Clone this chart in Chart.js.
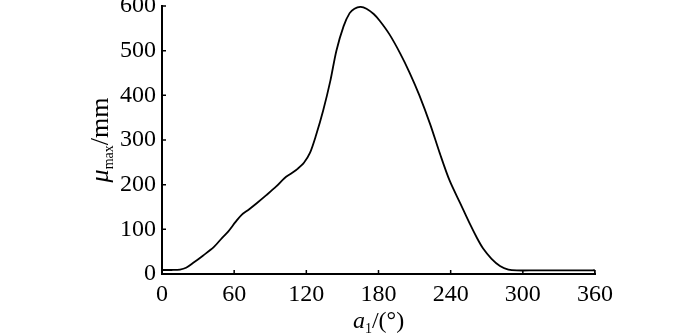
<!DOCTYPE html>
<html>
<head>
<meta charset="utf-8">
<script src="https://cdn.jsdelivr.net/npm/chart.js@4/dist/chart.umd.min.js"></script>
<style>
  html, body { margin: 0; padding: 0; background: #fff; }
  #wrap { width: 700px; height: 336px; }
</style>
</head>
<body>
<div id="wrap"><canvas id="muChart" width="700" height="336"></canvas></div>
<script>
// angle a1 (deg) and mu_max (mm)
const angles = [0, 8, 15, 20, 26, 34, 43, 50, 55, 61, 66, 72, 79, 87, 95, 102, 108, 113, 118, 123, 128, 134, 140, 145, 151, 156, 160, 165, 170, 176, 181, 189, 198, 206, 214, 223, 231, 239, 248, 256, 262, 267, 274, 281, 288, 295, 310, 330, 350, 357, 360, 360];
const muMax = [9, 9, 10, 14, 25, 41, 60, 81, 95, 116, 132, 144, 159, 177, 196, 215, 226, 236, 249, 271, 310, 366, 433, 500, 555, 584, 594, 598, 594, 582, 567, 537, 494, 450, 400, 335, 270, 210, 158, 112, 80, 57, 34, 18, 10, 8, 8, 8, 8, 8, 8, 0];
const xTicks = [0, 60, 120, 180, 240, 300, 360];
const yTicks = [0, 100, 200, 300, 400, 500, 600];

const serif = "'Liberation Serif', 'Times New Roman', serif";

const points = angles.map((a, i) => ({ x: a, y: muMax[i] }));

// inward tick marks + axis titles with subscripts
const decor = {
    id: 'decor',
    afterDraw(chart) {
        const ctx = chart.ctx;
        const area = chart.chartArea;
        const xs = chart.scales.x, ys = chart.scales.y;
        ctx.save();
        ctx.strokeStyle = '#000';
        ctx.lineWidth = 1.5;
        ctx.beginPath();
        xTicks.forEach(v => {
            const px = xs.getPixelForValue(v);
            ctx.moveTo(px, area.bottom);
            ctx.lineTo(px, area.bottom - 4);
        });
        yTicks.forEach(v => {
            const py = ys.getPixelForValue(v);
            ctx.moveTo(area.left, py);
            ctx.lineTo(area.left + 4, py);
        });
        ctx.stroke();

        ctx.fillStyle = '#000';
        ctx.textBaseline = 'alphabetic';
        ctx.textAlign = 'left';

        // x title: a1/(°)
        const big = '24px ' + serif, bigIt = 'italic 24px ' + serif, small = '14px ' + serif;
        const xParts = [['a', bigIt, 0], ['1', small, 5], ['/(°)', big, 0]];
        let w = 0;
        xParts.forEach(p => { ctx.font = p[1]; w += ctx.measureText(p[0]).width; });
        let cx = (area.left + area.right) / 2 - w / 2;
        const by = 328;
        xParts.forEach(p => {
            ctx.font = p[1];
            ctx.fillText(p[0], cx, by + p[2]);
            cx += ctx.measureText(p[0]).width;
        });

        // y title: mu_max/mm
        const yParts = [['μ', 'italic 26px ' + serif, 0], ['max', small, 5], ['/mm', '26px ' + serif, 0]];
        w = 0;
        yParts.forEach(p => { ctx.font = p[1]; w += ctx.measureText(p[0]).width; });
        ctx.translate(108, (area.top + area.bottom) / 2);
        ctx.rotate(-Math.PI / 2);
        cx = -w / 2;
        yParts.forEach(p => {
            ctx.font = p[1];
            ctx.fillText(p[0], cx, p[2]);
            cx += ctx.measureText(p[0]).width;
        });
        ctx.restore();
    }
};

function noPad(s) {
    s.paddingTop = 0; s.paddingBottom = 0; s.paddingLeft = 0; s.paddingRight = 0;
}

const ctx = document.getElementById('muChart').getContext('2d');
new Chart(ctx, {
    type: 'line',
    data: {
        datasets: [{
            data: points,
            borderColor: '#000',
            borderWidth: 1.8,
            pointRadius: 0,
            fill: false,
            tension: 0.3
        }]
    },
    options: {
        responsive: false,
        animation: false,
        layout: { padding: { left: 0, right: 105, top: 6, bottom: 0 } },
        plugins: { legend: { display: false }, tooltip: { enabled: false } },
        scales: {
            x: {
                type: 'linear',
                min: 0, max: 360,
                afterBuildTicks: s => { s.ticks = xTicks.map(v => ({ value: v })); },
                afterFit: s => { s.height = 62; noPad(s); },
                ticks: { color: '#000', padding: 6, font: { family: serif, size: 24 }, maxRotation: 0 },
                grid: { drawOnChartArea: false, drawTicks: false },
                border: { color: '#000', width: 2 }
            },
            y: {
                min: 0, max: 600,
                afterBuildTicks: s => { s.ticks = yTicks.map(v => ({ value: v })); },
                afterFit: s => { s.width = 162; noPad(s); },
                ticks: { color: '#000', padding: 6, font: { family: serif, size: 24 } },
                grid: { drawOnChartArea: false, drawTicks: false },
                border: { color: '#000', width: 2 }
            }
        }
    },
    plugins: [decor]
});
</script>
</body>
</html>
